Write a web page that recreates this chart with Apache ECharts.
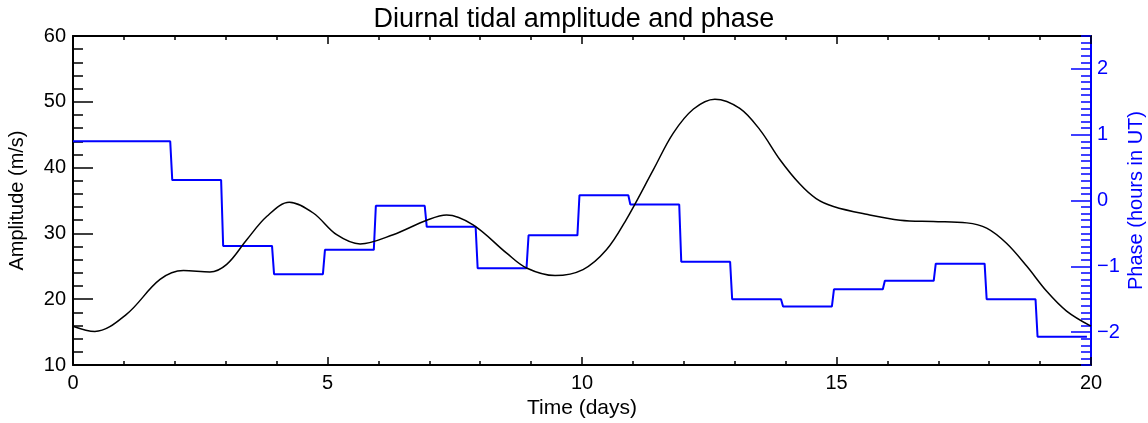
<!DOCTYPE html>
<html>
<head>
<meta charset="utf-8">
<script src="https://cdn.jsdelivr.net/npm/echarts@6/dist/echarts.min.js"></script>
<style>
html,body{margin:0;padding:0;background:#fff;}
#chart{width:1148px;height:423px;}
</style>
</head>
<body>
<div id="chart"></div>
<script>
// ---- data ----
const ampDays = [0, 0.43, 1.05, 1.71, 2.17, 2.69, 3.02, 3.41, 3.81, 4.25, 4.72, 5.18, 5.64, 6.29, 6.95, 7.34, 7.86, 8.52, 8.91, 9.47, 10.02, 10.48, 10.87, 11.4, 11.79, 12.19, 12.61, 13.1, 13.5, 13.89, 14.28, 14.6, 14.94, 15.59, 16.25, 16.9, 17.56, 17.95, 18.34, 18.74, 19.13, 19.52, 20];
const ampValues = [15.9, 15.1, 17.7, 23.0, 24.35, 24.15, 25.3, 29.0, 32.6, 34.75, 33.1, 29.8, 28.4, 29.8, 32.0, 32.8, 31.3, 27.0, 24.75, 23.6, 24.5, 27.5, 32.1, 39.65, 45.2, 48.9, 50.4, 49.0, 45.7, 41.2, 37.5, 35.3, 34.1, 32.9, 32.0, 31.8, 31.6, 30.8, 28.5, 25.0, 21.2, 18.2, 15.9];
const phaseDays = [0, 1, 2, 3, 4, 5, 6, 7, 8, 9, 10, 11, 12, 13, 14, 15, 16, 17, 18, 19];
const phaseValues = [0.9, 0.9, 0.31, -0.69, -1.12, -0.75, -0.08, -0.40, -1.03, -0.53, 0.08, -0.06, -0.93, -1.50, -1.61, -1.35, -1.22, -0.96, -1.50, -2.07];
const phaseTicks = [-2, -1, 0, 1, 2];
const xTicks = [0, 5, 10, 15, 20];
const ampTicks = [10, 20, 30, 40, 50, 60];

// ---- build series data ----
const ampData = ampDays.map((d, i) => [d, ampValues[i]]);
const phaseData = [];
phaseDays.forEach((d, i) => {
  const start = i === 0 ? d : d - 0.05;
  const end = i === phaseDays.length - 1 ? d + 0.92 : d + 0.91;
  phaseData.push([start, phaseValues[i]]);
  phaseData.push([end, phaseValues[i]]);
});
// categories for right-axis ticks (every 0.1)
const phaseCats = [];
for (let k = -25; k <= 25; k++) phaseCats.push((k / 10).toFixed(1));
const isMajorPhase = (idx) => phaseTicks.includes(Math.round(parseFloat(phaseCats[idx]) * 10) / 10);

const FONT = "'Liberation Sans', Arial, Helvetica, sans-serif";
const BLUE = '#0000ff';
const fmtMinus = (v) => String(v).replace('-', '\u2212');

const chart = echarts.init(document.getElementById('chart'), null, {renderer: 'canvas'});
const option = {
  backgroundColor: '#ffffff',
  animation: false,
  title: {
    text: 'Diurnal tidal amplitude and phase',
    left: 'center',
    top: 1,
    textStyle: {fontFamily: FONT, fontSize: 27, fontWeight: 'normal', color: '#000'}
  },
  grid: {left: 73, right: 57, top: 36, bottom: 58, containLabel: false, outerBoundsMode: 'none'},
  xAxis: [
    {
      type: 'value', position: 'bottom', min: xTicks[0], max: xTicks[xTicks.length - 1], interval: 5,
      name: 'Time (days)', nameLocation: 'middle', nameGap: 27,
      nameTextStyle: {fontFamily: FONT, fontSize: 21, color: '#000'},
      axisLine: {show: true, onZero: false, lineStyle: {color: '#000', width: 2}},
      axisTick: {show: true, inside: true, length: 8, lineStyle: {color: '#000', width: 1.5}},
      minorTick: {show: true, splitNumber: 5, length: 4, lineStyle: {color: '#000', width: 1.5}},
      axisLabel: {show: true, margin: 8, fontFamily: FONT, fontSize: 20, color: '#000'},
      splitLine: {show: false}
    },
    {
      type: 'value', position: 'top', min: xTicks[0], max: xTicks[xTicks.length - 1], interval: 5,
      axisLine: {show: true, onZero: false, lineStyle: {color: '#000', width: 2}},
      axisTick: {show: true, inside: true, length: 8, lineStyle: {color: '#000', width: 1.5}},
      minorTick: {show: true, splitNumber: 5, length: 4, lineStyle: {color: '#000', width: 1.5}},
      axisLabel: {show: false},
      splitLine: {show: false}
    }
  ],
  yAxis: [
    {
      type: 'value', position: 'left', min: ampTicks[0], max: ampTicks[ampTicks.length - 1], interval: 10,
      name: 'Amplitude (m/s)', nameLocation: 'middle', nameGap: 46, nameRotate: 90,
      nameTextStyle: {fontFamily: FONT, fontSize: 20, color: '#000'},
      axisLine: {show: true, onZero: false, lineStyle: {color: '#000', width: 2}},
      axisTick: {show: true, inside: true, length: 20, lineStyle: {color: '#000', width: 1.5}},
      minorTick: {show: true, splitNumber: 5, length: 10, lineStyle: {color: '#000', width: 1.5}},
      axisLabel: {show: true, margin: 7, fontFamily: FONT, fontSize: 20, color: '#000'},
      splitLine: {show: false}
    },
    {
      type: 'value', position: 'right', min: -2.5, max: 2.5, interval: 0.1,
      name: 'Phase (hours in UT)', nameLocation: 'middle', nameGap: 35, nameRotate: 90,
      nameTextStyle: {fontFamily: FONT, fontSize: 20, color: BLUE},
      axisLine: {show: true, onZero: false, lineStyle: {color: BLUE, width: 2}},
      axisTick: {show: true, inside: true, length: 10, lineStyle: {color: BLUE, width: 1.5}},
      axisLabel: {show: false},
      splitLine: {show: false}
    },
    {
      type: 'category', position: 'right', boundaryGap: false, data: phaseCats,
      axisLine: {show: false, onZero: false},
      axisTick: {show: true, inside: true, length: 20, interval: (idx) => isMajorPhase(idx), lineStyle: {color: BLUE, width: 1.5}},
      axisLabel: {show: true, margin: 6, interval: (idx) => isMajorPhase(idx), fontFamily: FONT, fontSize: 20, color: BLUE,
        formatter: (v) => fmtMinus(Math.round(parseFloat(v)))},
      splitLine: {show: false}
    }
  ],
  series: [
    {
      name: 'Amplitude', type: 'line', xAxisIndex: 0, yAxisIndex: 0,
      data: ampData, smooth: 0.35, showSymbol: false, symbol: 'none',
      lineStyle: {color: '#000', width: 1.5}, z: 3
    },
    {
      name: 'Phase', type: 'line', xAxisIndex: 0, yAxisIndex: 1,
      data: phaseData, smooth: false, showSymbol: false, symbol: 'none',
      lineStyle: {color: BLUE, width: 2}, z: 2
    }
  ]
};
chart.setOption(option);
</script>
</body>
</html>
